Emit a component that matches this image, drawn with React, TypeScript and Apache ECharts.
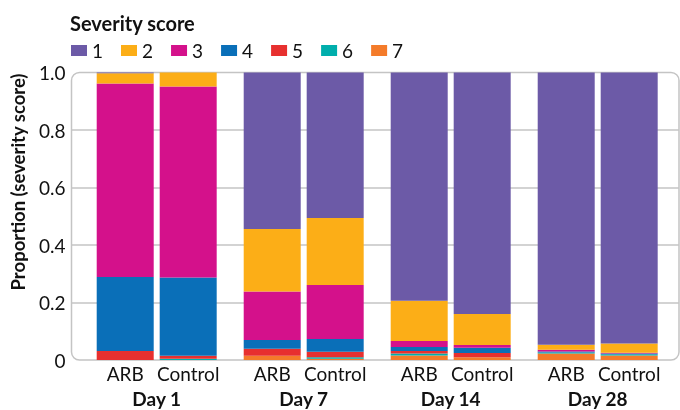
import React, { useEffect, useRef } from "react";
import * as echarts from "echarts";

const days = ["Day 1", "Day 7", "Day 14", "Day 28"];
const arms = ["ARB", "Control"];
const scores = ["1", "2", "3", "4", "5", "6", "7"];
const scoreColors = ["#6c5aa7", "#fcae17", "#d4118b", "#0a6fb8", "#e7302f", "#00aeac", "#f47b2a"];

// ARB arm: proportion per severity score, by day (Day 1, 7, 14, 28)
const arbScore1 = [0.003, 0.544, 0.794, 0.947];
const arbScore2 = [0.035, 0.218, 0.14, 0.017];
const arbScore3 = [0.673, 0.168, 0.021, 0.006];
const arbScore4 = [0.258, 0.031, 0.014, 0.004];
const arbScore5 = [0.031, 0.024, 0.008, 0.0];
const arbScore6 = [0.0, 0.0, 0.007, 0.003];
const arbScore7 = [0.0, 0.015, 0.016, 0.023];

// Control arm
const ctlScore1 = [0.0, 0.506, 0.84, 0.943];
const ctlScore2 = [0.049, 0.233, 0.108, 0.032];
const ctlScore3 = [0.664, 0.188, 0.009, 0.002];
const ctlScore4 = [0.272, 0.044, 0.019, 0.003];
const ctlScore5 = [0.011, 0.019, 0.014, 0.0];
const ctlScore6 = [0.004, 0.006, 0.0, 0.004];
const ctlScore7 = [0.0, 0.004, 0.01, 0.016];

const yTicks = ["0", "0.2", "0.4", "0.6", "0.8", "1.0"];

const armData: Record<string, number[][]> = {
  ARB: [arbScore1, arbScore2, arbScore3, arbScore4, arbScore5, arbScore6, arbScore7],
  Control: [ctlScore1, ctlScore2, ctlScore3, ctlScore4, ctlScore5, ctlScore6, ctlScore7],
};

const FONT = "Lato";

export default function App() {
  const ref = useRef<HTMLDivElement>(null);
  useEffect(() => {
    if (!ref.current) return;
    const chart = echarts.init(ref.current, null, { renderer: "svg" });
    const series: any[] = [];
    arms.forEach((arm) => {
      for (let i = scores.length - 1; i >= 0; i--) {
        const s: any = {
          name: scores[i],
          type: "bar",
          stack: arm,
          xAxisIndex: 0,
          yAxisIndex: 0,
          barWidth: 57,
          barGap: "10.5%",
          data: armData[arm][i],
          itemStyle: { color: scoreColors[i] },
          emphasis: { disabled: true },
        };
        if (i === scores.length - 1) {
          s.label = {
            show: true,
            position: "bottom",
            distance: 4,
            formatter: arm,
            fontSize: 19,
            fontFamily: FONT,
            color: "#111",
          };
        }
        series.push(s);
      }
    });
    chart.setOption({
      animation: false,
      title: {
        text: "Severity score",
        left: 70,
        top: 13,
        padding: 0,
        textStyle: { fontFamily: FONT, fontSize: 20, fontWeight: "bold", color: "#111" },
      },
      legend: {
        data: scores,
        left: 71,
        top: 41,
        padding: 0,
        icon: "rect",
        itemWidth: 16,
        itemHeight: 11,
        itemGap: 18,
        textStyle: { fontFamily: FONT, fontSize: 19, color: "#111" },
      },
      grid: [
        { left: 83.2, right: 8.8, top: 72.5, bottom: 50 },
        { left: 71.5, right: 1, top: 72.5, bottom: 50 },
      ],
      xAxis: [
        {
          type: "category",
          gridIndex: 0,
          data: days,
          axisLine: { show: false },
          axisTick: { show: false },
          axisLabel: { margin: 29, fontWeight: "bold", fontSize: 19, fontFamily: FONT, color: "#111" },
        },
        { type: "value", gridIndex: 1, show: false, min: 0, max: 1 },
      ],
      yAxis: [
        { type: "value", gridIndex: 0, min: 0, max: 1, interval: 0.2, show: false },
        {
          type: "value",
          gridIndex: 1,
          min: 0,
          max: 1,
          interval: 0.2,
          axisLine: { show: false },
          axisTick: { show: false },
          splitLine: { show: true, showMinLine: false, showMaxLine: false, lineStyle: { color: "#c4c4c4", width: 1.5 } },
          axisLabel: {
            margin: 6,
            fontSize: 19,
            fontFamily: FONT,
            color: "#111",
            formatter: (v: number) => yTicks[Math.round(v * 5)],
          },
        },
      ],
      graphic: [
        {
          type: "rect",
          z: 0,
          shape: { x: 71.5, y: 72.5, width: 607.5, height: 287.5, r: 8 },
          style: { fill: "none", stroke: "#c4c4c4", lineWidth: 1.5 },
        },
        {
          type: "text",
          x: 18,
          y: 182,
          rotation: Math.PI / 2,
          style: {
            text: "Proportion (severity score)",
            font: `bold 18.5px ${FONT}`,
            fill: "#111",
            align: "center",
            verticalAlign: "middle",
          },
        },
      ],
      series,
    });
    return () => chart.dispose();
  }, []);
  return <div ref={ref} style={{ position: "fixed", left: 0, top: 0, width: 680, height: 410 }} />;
}
